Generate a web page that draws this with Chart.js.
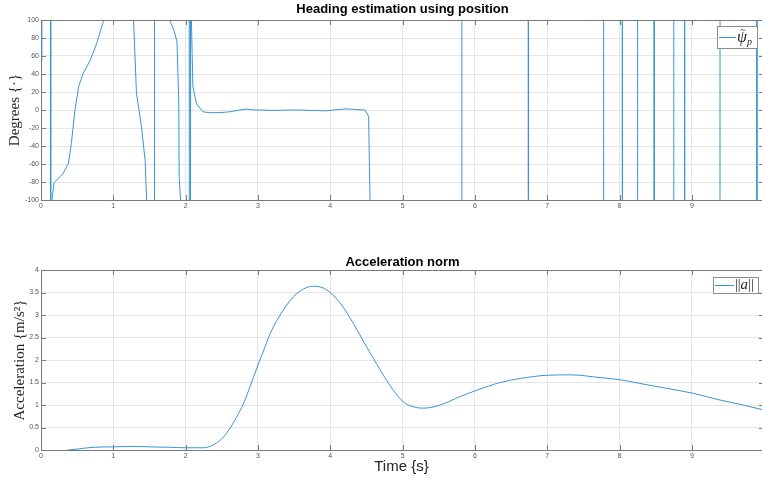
<!DOCTYPE html>
<html>
<head>
<meta charset="utf-8">
<script src="https://cdn.jsdelivr.net/npm/chart.js@4/dist/chart.umd.min.js"></script>
<style>
  html, body { margin: 0; padding: 0; background: #fff; overflow: hidden; }
  canvas { display: block; }
</style>
</head>
<body>
<canvas id="headingChart" width="762" height="232"></canvas>
<canvas id="accChart" width="762" height="251"></canvas>
<script>
//<------------- data ------------->
// heading estimate (deg), wraps at +-180 show up as vertical lines
const headingTime = [0, 0.012, 0.133, 0.134, 0.152, 0.18, 0.24, 0.31, 0.38, 0.42, 0.47, 0.52, 0.585, 0.68, 0.77, 0.86,
  0.95, 1.07, 1.18, 1.26, 1.28, 1.32, 1.39, 1.44, 1.46, 1.5, 1.569, 1.57, 1.65, 1.78, 1.84, 1.88, 1.905, 1.91, 1.93, 1.98,
  2.049, 2.05, 2.064, 2.065, 2.069, 2.07, 2.08, 2.10, 2.15, 2.24, 2.33, 2.45, 2.61, 2.75, 2.84, 2.95, 3.03, 3.2, 3.31,
  3.45, 3.58, 3.75, 3.95, 4.1, 4.23, 4.35, 4.48, 4.53, 4.55, 4.57, 5.819, 5.82, 6.739, 6.74, 7.779, 7.78, 8.039, 8.04,
  8.249, 8.25, 8.479, 8.48, 8.749, 8.75, 8.899, 8.9, 9.389, 9.39, 9.899, 9.9, 9.97];
const headingDeg = [55, 175, 179, -179, -100, -81, -76, -70, -59, -37, 0, 26, 41, 55, 74, 98,
  125, 140, 128, 110, 100, 19, -19, -56, -100, -140, -178, 178, 150, 100, 88, 76, 10, -74, -100, -150,
  -178, 178, 178, -178, -178, 178, 100, 26, 7, -2, -3, -3, -2, 0, 1, 0, 0, -0.5, -0.3,
  0, 0, -0.5, -1, 0.5, 1.3, 0.5, 0, -7, -100, -175, -178, 178, 178, -178, -178, 178, 178, -178,
  -178, 178, 178, -178, -178, 178, 178, -178, -178, 178, 178, -178, -178];

// acceleration norm (m/s^2)
const accTime = [0.37, 0.5, 0.6, 0.72, 1.0, 1.3, 1.5, 1.8, 2.0, 2.25, 2.32, 2.4, 2.5, 2.6, 2.7, 2.8, 2.9, 3.0, 3.1,
  3.17, 3.35, 3.54, 3.77, 3.95, 4.14, 4.32, 4.5, 4.69, 4.87, 5.01, 5.15, 5.29, 5.52, 5.8, 6.03, 6.35, 6.63, 6.99,
  7.32, 7.73, 8.01, 8.28, 8.65, 9.02, 9.39, 9.71, 9.97];
const accNorm = [0, 0.02, 0.04, 0.06, 0.07, 0.08, 0.07, 0.06, 0.05, 0.05, 0.07, 0.13, 0.25, 0.45, 0.72, 1.03, 1.45, 1.89, 2.3,
  2.59, 3.11, 3.48, 3.64, 3.56, 3.26, 2.81, 2.30, 1.78, 1.33, 1.07, 0.96, 0.93, 1.0, 1.19, 1.33, 1.5, 1.59, 1.66,
  1.67, 1.61, 1.56, 1.48, 1.37, 1.26, 1.11, 1.0, 0.9];

const xMin = 0, xMax = 9.97;
const headingTicks = [-100, 100, 20];   // min, max, step
const accTicks = [0, 4, 0.5];

const lineBlue = 'rgb(58,148,210)';
const tickFont = { family: 'Liberation Sans, Arial, sans-serif', size: 7 };

//<------------- MATLAB style bits: title over plot box, inward ticks, boxed legend ------------->
const plotTitle = {
  id: 'plotTitle',
  afterDraw(chart, args, opts) {
    const { ctx, chartArea: a } = chart;
    ctx.save();
    ctx.font = 'bold 13px "Liberation Sans", Arial, sans-serif';
    ctx.fillStyle = '#000';
    ctx.textAlign = 'center';
    ctx.textBaseline = 'middle';
    ctx.fillText(opts.text, (a.left + a.right) / 2 + 1, a.top - opts.gap);
    ctx.restore();
  }
};

const matlabFrame = {
  id: 'matlabFrame',
  afterDatasetsDraw(chart) {
    const { ctx, chartArea: a, scales: { x, y } } = chart;
    ctx.save();
    ctx.strokeStyle = '#7a7a7a';
    ctx.lineWidth = 1;
    ctx.beginPath();
    ctx.moveTo(a.left, a.top + 0.5);
    ctx.lineTo(a.right, a.top + 0.5);
    x.ticks.forEach(t => {
      const px = Math.round(x.getPixelForValue(t.value)) + 0.5;
      ctx.moveTo(px, a.bottom); ctx.lineTo(px, a.bottom - 5);
      ctx.moveTo(px, a.top); ctx.lineTo(px, a.top + 5);
    });
    y.ticks.forEach(t => {
      const py = Math.round(y.getPixelForValue(t.value)) + 0.5;
      ctx.moveTo(a.left, py); ctx.lineTo(a.left + 5, py);
      ctx.moveTo(a.right, py); ctx.lineTo(a.right - 3, py);
    });
    ctx.stroke();
    ctx.restore();
  }
};

// legend text is drawn piece by piece; a piece with "over" is centred over the previous one (the tilde)
const boxLegend = {
  id: 'boxLegend',
  afterDraw(chart, args, opts) {
    const { ctx, chartArea: a } = chart;
    const x0 = Math.round(a.right - opts.right - opts.width);
    const y0 = Math.round(a.top + opts.top);
    const my = y0 + opts.height / 2;
    ctx.save();
    ctx.fillStyle = '#fff';
    ctx.fillRect(x0, y0, opts.width, opts.height);
    ctx.strokeStyle = '#8c8c8c';
    ctx.lineWidth = 1;
    ctx.strokeRect(x0 + 0.5, y0 + 0.5, opts.width, opts.height);
    ctx.strokeStyle = chart.data.datasets[0].borderColor;
    ctx.beginPath();
    ctx.moveTo(x0 + 2, Math.round(my) + 0.5);
    ctx.lineTo(x0 + 2 + opts.lineLen, Math.round(my) + 0.5);
    ctx.stroke();
    let tx = x0 + 3 + opts.lineLen;
    let prevX = tx, prevW = 0;
    ctx.fillStyle = '#262626';
    ctx.textBaseline = 'middle';
    opts.parts.forEach(p => {
      ctx.font = p.font;
      const w = ctx.measureText(p.text).width;
      if (p.over) {
        ctx.fillText(p.text, prevX + (prevW - w) / 2 + (p.dx || 0), my + (p.dy || 0));
        return;
      }
      ctx.fillText(p.text, tx, my + (p.dy || 0));
      prevX = tx; prevW = w;
      tx += w;
    });
    ctx.restore();
  }
};

function toPoints(xs, ys) {
  return xs.map((t, i) => ({ x: t, y: ys[i] }));
}

function baseOptions(yt, yTitle, yTitlePad, xTitle) {
  return {
    responsive: false,
    animation: false,
    layout: { padding: { left: 0, right: 0, bottom: 0 } },
    plugins: { legend: { display: false }, tooltip: { enabled: false }, title: { display: false } },
    scales: {
      x: {
        type: 'linear', min: xMin, max: xMax,
        ticks: { stepSize: 1, includeBounds: false, padding: 2, color: '#555', font: tickFont, maxRotation: 0 },
        grid: { color: '#e6e6e6', drawTicks: false },
        border: { color: '#7a7a7a' },
        title: xTitle ? { display: true, text: xTitle, color: '#262626',
          font: { family: 'Liberation Sans, Arial, sans-serif', size: 15 }, padding: { top: 0, bottom: 7 } } : { display: false }
      },
      y: {
        min: yt[0], max: yt[1],
        ticks: { stepSize: yt[2], padding: 2, color: '#555', font: tickFont,
          callback: v => String(+v.toFixed(2)) },
        grid: { color: '#e6e6e6', drawTicks: false },
        border: { color: '#7a7a7a' },
        title: { display: true, text: yTitle, color: '#262626',
          font: { family: 'Liberation Serif, DejaVu Serif, serif', size: 15 }, padding: { top: yTitlePad, bottom: 0 } },
        afterFit: s => { s.width = 41; }
      }
    }
  };
}

//<------------- top: heading estimation ------------->
const headOpts = baseOptions(headingTicks, 'Degrees {\u00b7}', 6, null);
headOpts.layout.padding.top = 20;
headOpts.scales.x.afterFit = s => { s.height = 32; };
headOpts.plugins.plotTitle = { text: 'Heading estimation using position', gap: 11 };
headOpts.plugins.boxLegend = {
  right: 5, top: 6, width: 40, height: 22, lineLen: 17,
  parts: [
    { text: '\u03c8', font: 'italic 16px "Liberation Serif", serif', dy: 1 },
    { text: '~', font: '10px "Liberation Serif", serif', dy: -7, dx: 1, over: true },
    { text: 'p', font: 'italic 10px "Liberation Serif", serif', dy: 5 }
  ]
};

new Chart(document.getElementById('headingChart'), {
  type: 'line',
  data: {
    datasets: [{
      label: 'psi_p',
      data: toPoints(headingTime, headingDeg),
      borderColor: lineBlue,
      borderWidth: 1,
      pointRadius: 0,
      tension: 0
    }]
  },
  options: headOpts,
  plugins: [matlabFrame, plotTitle, boxLegend]
});

//<------------- bottom: acceleration norm ------------->
const accOpts = baseOptions(accTicks, 'Acceleration {m/s\u00b2}', 11, 'Time {s}');
accOpts.layout.padding.top = 38;
accOpts.scales.x.afterFit = s => { s.height = 33; };
accOpts.plugins.plotTitle = { text: 'Acceleration norm', gap: 8 };
accOpts.plugins.boxLegend = {
  right: 4, top: 7, width: 45, height: 16, lineLen: 19,
  parts: [
    { text: '||', font: '14px "Liberation Serif", serif' },
    { text: 'a', font: 'italic 15px "Liberation Serif", serif' },
    { text: '||', font: '14px "Liberation Serif", serif' }
  ]
};

new Chart(document.getElementById('accChart'), {
  type: 'line',
  data: {
    datasets: [{
      label: '||a||',
      data: toPoints(accTime, accNorm),
      borderColor: lineBlue,
      borderWidth: 1,
      pointRadius: 0,
      cubicInterpolationMode: 'monotone'
    }]
  },
  options: accOpts,
  plugins: [matlabFrame, plotTitle, boxLegend]
});
</script>
</body>
</html>
